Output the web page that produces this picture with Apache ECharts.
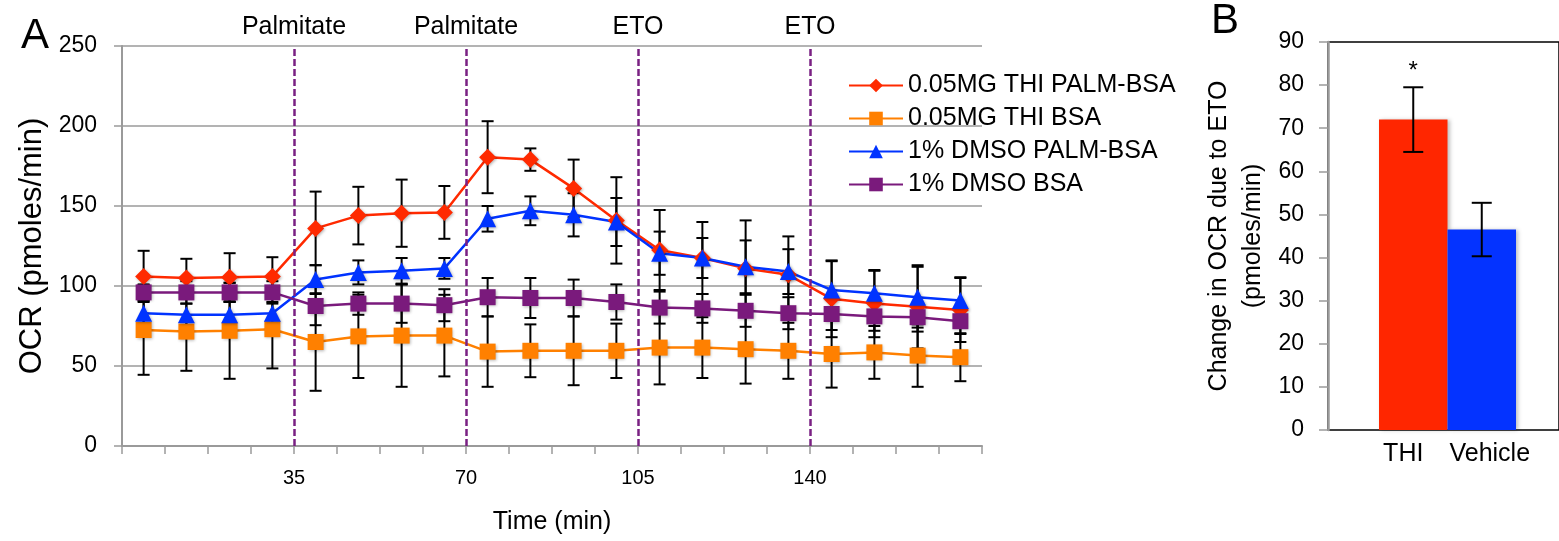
<!DOCTYPE html>
<html>
<head>
<meta charset="utf-8">
<script src="https://cdn.jsdelivr.net/npm/echarts@6/dist/echarts.min.js"></script>
<style>
  html, body { margin: 0; padding: 0; background: #fff; }
  #main { width: 1559px; height: 541px; }
</style>
</head>
<body>
<div id="main"></div>
<script>
// panel A: OCR over time (min), one reading per measurement cycle
var times = [4.4, 13.1, 21.9, 30.6, 39.4, 48.1, 56.9, 65.6, 74.4, 83.1,
             91.9, 100.6, 109.4, 118.1, 126.9, 135.6, 144.4, 153.1, 161.9, 170.6];

var thiPalm    = [106, 105, 105.5, 106, 136, 144, 145.5, 146, 180.5, 179, 161, 141, 122.5, 117.5, 111, 107, 92, 89, 87, 85];
var thiPalmErr = [16, 12, 15, 12, 23, 18, 21, 16.5, 22.5, 7, 18, 27, 25, 22.5, 30, 24, 24, 21, 26, 20];

var thiBsa     = [72.5, 71.5, 72, 73, 65, 68.5, 69, 69, 59, 59.5, 59.5, 59.5, 61.5, 61.5, 60.5, 59.5, 57.5, 58.5, 56.5, 55.5];
var thiBsaErr  = [28, 24.5, 30, 24.5, 30.5, 26, 32, 25.5, 22, 16.5, 21.5, 17, 23, 19, 21.5, 17.5, 21, 16.5, 19.5, 15];

var dmsoPalm    = [83, 82, 82, 83, 104, 108.5, 109.5, 111, 142, 147, 144.5, 140, 120.5, 117.5, 112, 109, 97.5, 95.5, 93, 91];
var dmsoPalmErr = [8, 7, 8, 7, 9, 7.5, 8, 6.5, 8, 9, 13.5, 15, 13.5, 12.5, 16.5, 14, 18, 14, 19, 14.5];

var dmsoBsa    = [96, 96, 96, 96, 87.5, 89, 89, 88, 93, 92.5, 92.5, 90, 86.5, 86, 84.5, 83, 82.5, 81, 80.5, 78];
var dmsoBsaErr = [5, 7, 6, 7, 12, 7, 12, 10, 12, 12.5, 11.5, 11, 10, 9, 10, 10, 10, 9, 9, 8];

// injections
var injTimes  = [35, 70, 105, 140];
var injLabels = ['Palmitate', 'Palmitate', 'ETO', 'ETO'];

// panel B: change due to ETO
var groups    = ['THI', 'Vehicle'];
var change    = [72, 46.5];
var changeErr = [7.5, 6.2];
var signif    = ['*', ''];

var FONT = 'Liberation Sans, Arial, sans-serif';
var GRAY = '#9a9a9a';

function pairs(v) {
  return times.map(function (t, i) { return [t, v[i]]; });
}
function errData(v, e) {
  return times.map(function (t, i) { return [t, v[i] - e[i], v[i] + e[i]]; });
}
function errRender(capHalf) {
  return function (params, api) {
    var lo = api.coord([api.value(0), api.value(1)]);
    var hi = api.coord([api.value(0), api.value(2)]);
    var st = { stroke: '#000', lineWidth: 2 };
    return {
      type: 'group',
      children: [
        { type: 'line', shape: { x1: lo[0], y1: lo[1], x2: hi[0], y2: hi[1] }, style: st },
        { type: 'line', shape: { x1: lo[0] - capHalf, y1: lo[1], x2: lo[0] + capHalf, y2: lo[1] }, style: st },
        { type: 'line', shape: { x1: hi[0] - capHalf, y1: hi[1], x2: hi[0] + capHalf, y2: hi[1] }, style: st }
      ]
    };
  };
}
function lineSeries(name, data, color, symbol, size) {
  return {
    name: name, type: 'line', data: pairs(data),
    xAxisIndex: 0, yAxisIndex: 0, z: 3,
    symbol: symbol, symbolSize: size,
    lineStyle: { color: color, width: 2.5 },
    itemStyle: { color: color, shadowColor: 'rgba(0,0,0,0.3)', shadowBlur: 3, shadowOffsetX: 1, shadowOffsetY: 1 },
    emphasis: { disabled: true }
  };
}
function errSeries(v, e) {
  return {
    type: 'custom', xAxisIndex: 0, yAxisIndex: 0, z: 2,
    renderItem: errRender(6), data: errData(v, e),
    encode: { x: 0, y: [1, 2] }, silent: true
  };
}

var red = lineSeries('0.05MG THI PALM-BSA', thiPalm, '#FF2A00', 'diamond', 17);
red.markLine = {
  silent: true, symbol: 'none',
  lineStyle: { color: '#7A2083', width: 2.5, type: [7, 3] },
  label: { position: 'end', distance: 6, color: '#000', fontSize: 25, fontFamily: FONT },
  data: injTimes.map(function (t, i) {
    return { xAxis: t, label: { formatter: injLabels[i] } };
  })
};

var chart = echarts.init(document.getElementById('main'));
chart.setOption({
  animation: false,
  textStyle: { fontFamily: FONT, color: '#000' },
  title: [
    { text: 'A', left: 16, top: 10, textStyle: { fontSize: 42, fontWeight: 'normal', color: '#000', fontFamily: FONT } },
    { text: 'B', left: 1206, top: -5, textStyle: { fontSize: 42, fontWeight: 'normal', color: '#000', fontFamily: FONT } }
  ],
  legend: {
    orient: 'vertical', left: 843, top: 68,
    itemWidth: 54, itemHeight: 17, itemGap: 8,
    textStyle: { fontSize: 25, color: '#000', fontFamily: FONT, lineHeight: 25 },
    data: ['0.05MG THI PALM-BSA', '0.05MG THI BSA', '1% DMSO PALM-BSA', '1% DMSO BSA']
  },
  grid: [
    { left: 122, top: 46, width: 860, height: 400 },
    { left: 1328, top: 42, right: -6, height: 388, show: true, borderColor: '#000', borderWidth: 1.5, backgroundColor: 'transparent' },
    { left: 1379, top: 42, width: 137, height: 388 }
  ],
  xAxis: [
    {
      gridIndex: 0, type: 'value', min: 0, max: 175, interval: 8.75,
      name: 'Time (min)', nameLocation: 'middle', nameGap: 64,
      nameTextStyle: { fontSize: 25, color: '#000' },
      axisLine: { lineStyle: { color: GRAY, width: 2 } },
      axisTick: { length: 8, lineStyle: { color: GRAY, width: 1.5 } },
      splitLine: { show: false },
      axisLabel: {
        margin: 22, fontSize: 20, color: '#000',
        formatter: function (v) { return (v > 0 && v < 175 && v % 35 === 0) ? String(v) : ''; }
      }
    },
    { gridIndex: 1, type: 'value', show: false },
    {
      gridIndex: 2, type: 'category', data: groups,
      axisLine: { show: false }, axisTick: { show: false },
      axisLabel: {
        interval: 0, margin: 12, fontSize: 25, color: '#000',
        formatter: function (v) { return v === 'THI' ? '{l|' + v + '}' : '{r|' + v + '}'; },
        rich: {
          l: { fontSize: 25, color: '#000', padding: [0, 20, 0, 0] },
          r: { fontSize: 25, color: '#000', padding: [0, 0, 0, 16] }
        }
      }
    }
  ],
  yAxis: [
    {
      gridIndex: 0, type: 'value', min: 0, max: 250, interval: 50,
      name: 'OCR (pmoles/min)', nameLocation: 'middle', nameGap: 74,
      nameTextStyle: { fontSize: 31, color: '#000' },
      axisLine: { show: true, lineStyle: { color: GRAY, width: 2 } },
      axisTick: { show: true, length: 8, lineStyle: { color: GRAY, width: 1.5 } },
      splitLine: { lineStyle: { color: GRAY, width: 1.5 } },
      axisLabel: { margin: 25, fontSize: 23, color: '#000' }
    },
    {
      gridIndex: 1, type: 'value', min: 0, max: 90, interval: 10, z: 5,
      name: 'Change in OCR due to ETO\n(pmoles/min)', nameLocation: 'middle', nameGap: 58,
      nameTextStyle: { fontSize: 25, color: '#000', lineHeight: 34 },
      axisLine: { show: true, lineStyle: { color: GRAY, width: 2.5 } },
      axisTick: { show: true, length: 9, lineStyle: { color: GRAY, width: 1.5 } },
      splitLine: { show: false },
      axisLabel: { margin: 24, fontSize: 23, color: '#000' }
    },
    { gridIndex: 2, type: 'value', min: 0, max: 90, show: false }
  ],
  series: [
    red,
    lineSeries('0.05MG THI BSA', thiBsa, '#FF8000', 'rect', 16),
    lineSeries('1% DMSO PALM-BSA', dmsoPalm, '#0033FF', 'triangle', 17),
    lineSeries('1% DMSO BSA', dmsoBsa, '#7A1A7C', 'rect', 16),
    errSeries(thiPalm, thiPalmErr),
    errSeries(thiBsa, thiBsaErr),
    errSeries(dmsoPalm, dmsoPalmErr),
    errSeries(dmsoBsa, dmsoBsaErr),
    {
      type: 'bar', xAxisIndex: 2, yAxisIndex: 2,
      barWidth: '100%', barCategoryGap: '0%',
      data: change.map(function (v, i) {
        return {
          value: v,
          itemStyle: { color: ['#FF2600', '#0433FF'][i], shadowColor: 'rgba(0,0,0,0.25)', shadowBlur: 4, shadowOffsetX: 2 },
          label: { show: signif[i] !== '', position: 'top', distance: 36, formatter: signif[i], fontSize: 24, color: '#000' }
        };
      }),
      emphasis: { disabled: true }
    },
    {
      type: 'custom', xAxisIndex: 2, yAxisIndex: 2, z: 4, silent: true,
      renderItem: errRender(10),
      data: change.map(function (v, i) { return [i, v - changeErr[i], v + changeErr[i]]; }),
      encode: { x: 0, y: [1, 2] }
    }
  ]
});
</script>
</body>
</html>
